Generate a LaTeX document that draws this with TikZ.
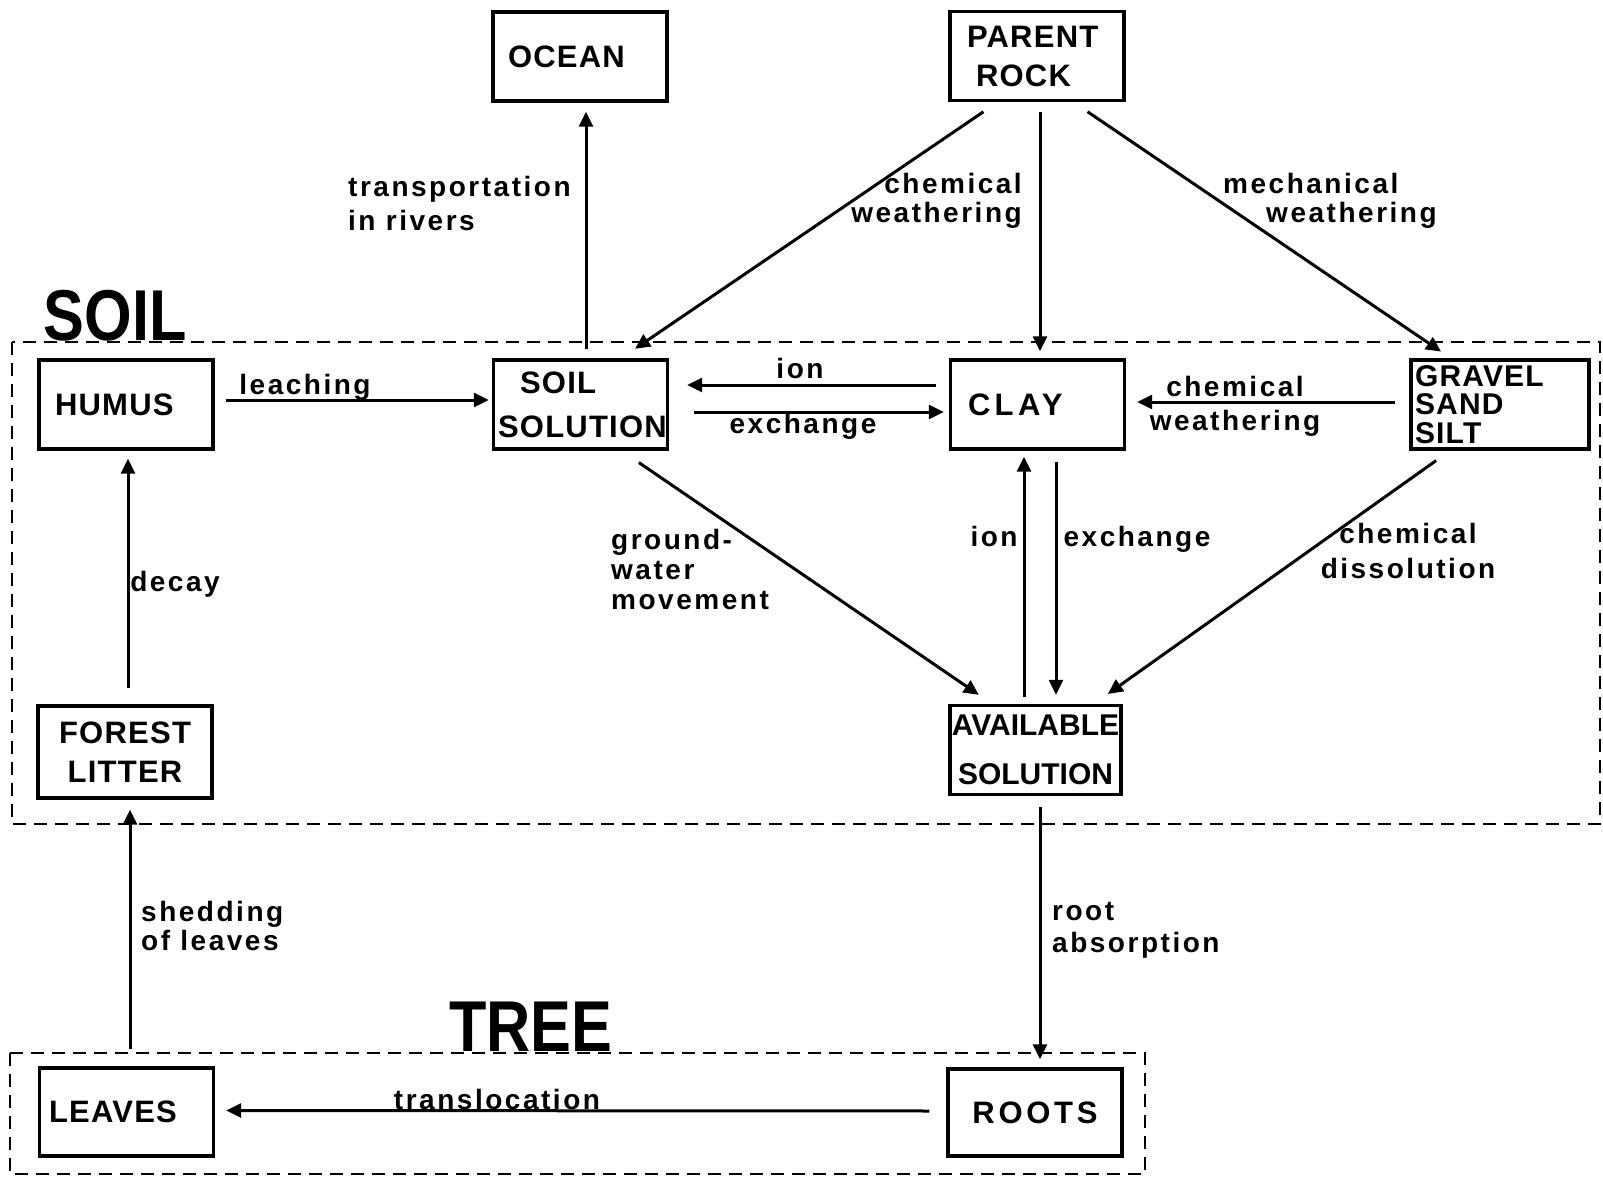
\documentclass[tikz,border=0pt]{standalone}
\usepackage{fontspec}
\setmainfont{Liberation Sans}
\newfontfamily\boxfont[LetterSpace=4]{Liberation Sans}
\newfontfamily\lblfont[LetterSpace=9]{Liberation Sans}
\newfontfamily\titlefont[FakeStretch=0.85]{Liberation Sans}
\usetikzlibrary{arrows.meta,calc}
\tikzset{
	item/.style={
			draw, line width=3.4pt, rectangle, minimum width=174pt, minimum height=89pt,
			inner sep=2pt, align=center, font=\boxfont\bfseries\fontsize{31}{39}\selectfont
		},
	leftitem/.style={item, text width=#1, align=left, inner sep=0pt},
	lbl/.style={align=left, inner sep=0pt, font=\lblfont\bfseries\fontsize{28}{#1}\selectfont},
	lbl/.default=31,
	flow/.style={line width=3pt, -{Triangle[length=15pt,width=14pt]}},
	region/.style={dash pattern=on 13pt off 8pt, line width=2pt},
	title/.style={inner sep=0pt, font=\titlefont\bfseries\fontsize{72}{72}\selectfont}
}

\begin{document}
\begin{tikzpicture}[x=1pt,y=-1pt]
	\useasboundingbox (0,0) rectangle (1603,1178);
	\draw[region] (12,342) rectangle (1600,824);
	\draw[region] (10,1053) rectangle (1145,1174);
	\node[title] (soiltitle) at (115,316) {SOIL};
	\node[title] (treetitle) at (531,1027) {TREE};

	\node[leftitem=144pt] (ocean) at (580,56.5) {OCEAN};
	\node[leftitem=140pt] (rock) at (1037,56) {PARENT\\\hspace*{9pt}ROCK};
	\node[leftitem=142pt] (humus) at (126,404.5) {HUMUS};
	\node[leftitem=165pt, font=\boxfont\bfseries\fontsize{31}{44}\selectfont] (soilsol) at (580.5,404.5) {\hspace*{22pt}SOIL\\SOLUTION};
	\node[leftitem=139pt, font=\boxfont\bfseries\addfontfeature{LetterSpace=14}\fontsize{31}{39}\selectfont] (clay) at (1037.5,404.5) {CLAY};
	\node[item, text width=170pt, inner sep=4pt, align=left, font=\boxfont\bfseries\fontsize{30}{28.5}\selectfont] (gravel) at (1500,404.5) {GRAVEL\\SAND\\SILT};
	\node[item, minimum height=92pt] (litter) at (125,752) {FOREST\\LITTER};
	\node[item, minimum width=171pt, font=\bfseries\fontsize{30}{49}\selectfont] (avail) at (1035.5,750) {AVAILABLE\\SOLUTION};
	\node[leftitem=155pt, minimum height=88pt] (leaves) at (126.5,1112) {LEAVES};
	\node[item, minimum height=87pt, font=\boxfont\bfseries\addfontfeature{LetterSpace=12}\fontsize{31}{39}\selectfont] (roots) at (1035,1112.5) {ROOTS};

	\node[lbl=34, anchor=west] (rivers) at (348,203) {transportation\\in rivers};
	\node[lbl=29, align=right, anchor=east] (chemrock) at (1022,201) {chemical\\weathering};
	\node[lbl=29, anchor=west] (mech) at (1223,201) {mechanical\\\hspace*{43pt}weathering};
	\node[lbl] (leach) at (305,387) {leaching};
	\node[lbl] (ionleft) at (800,368) {ion};
	\node[lbl] (exleft) at (803,426) {exchange};
	\node[lbl=34, align=center] (chemgravel) at (1235,406) {chemical\\weathering};
	\node[lbl=30, anchor=west] (ground) at (611,569) {ground-\\water\\movement};
	\node[lbl] (iondown) at (994,536) {ion};
	\node[lbl] (exdown) at (1137,539) {exchange};
	\node[lbl=35, align=center] (dissol) at (1408,551) {chemical\\dissolution};
	\node[lbl] (decay) at (175,584) {decay};
	\node[lbl=29, anchor=west] (shed) at (141,926) {shedding\\of leaves};
	\node[lbl=32, anchor=west] (absorb) at (1052,930) {root\\absorption};
	\node[lbl] (transloc) at (497,1099) {translocation};

	\draw[flow, shorten <=9pt, shorten >=9pt] ([xshift=5.5pt]soilsol.north) -- ([xshift=6pt]ocean.south);
	\draw[flow, shorten <=17pt, shorten >=17pt] ([xshift=-39.5pt]rock.south) -- ([xshift=40.5pt]soilsol.north);
	\draw[flow, shorten <=10pt, shorten >=7pt] ([xshift=3pt]rock.south) -- ([xshift=2.5pt]clay.north);
	\draw[flow, shorten <=17pt, shorten >=12pt] ([xshift=36.5pt]rock.south) -- ([xshift=-49pt]gravel.north);
	\draw[flow, shorten <=11pt, shorten >=3pt] ([yshift=4.5pt]humus.east) -- ([yshift=4.5pt]soilsol.west);
	\draw[flow, shorten <=13pt, shorten >=18pt] ([yshift=19.5pt]clay.west) -- ([yshift=19.5pt]soilsol.east);
	\draw[flow, shorten <=25pt, shorten >=5pt] ([yshift=-7.5pt]soilsol.east) -- ([yshift=-7.5pt]clay.west);
	\draw[flow, shorten <=14pt, shorten >=11pt] ([yshift=2.5pt]gravel.west) -- ([yshift=2.5pt]clay.east);
	\draw[flow, shorten <=21pt, shorten >=16pt] ([xshift=41pt]soilsol.south) -- ([xshift=-43.5pt]avail.north);
	\draw[flow, shorten <=7pt, shorten >=6pt] ([xshift=-11.5pt]avail.north) -- ([xshift=-13.5pt]clay.south);
	\draw[flow, shorten <=11pt, shorten >=9pt] ([xshift=18.5pt]clay.south) -- ([xshift=20.5pt]avail.north);
	\draw[flow, shorten <=17pt, shorten >=17pt] ([xshift=-50pt]gravel.south) -- ([xshift=58.5pt]avail.north);
	\draw[flow, shorten <=16pt, shorten >=8pt] ([xshift=3pt]litter.north) -- ([xshift=2pt]humus.south);
	\draw[flow, shorten <=17pt, shorten >=10pt] ([xshift=3.5pt]leaves.north) -- ([xshift=5pt]litter.south);
	\draw[flow, shorten <=11pt, shorten >=8pt] ([xshift=4.5pt]avail.south) -- ([xshift=5pt]roots.north);
	\draw[flow, shorten <=17pt, shorten >=11pt] ([yshift=1.5pt]roots.west) -- ([yshift=1.5pt]leaves.east);
\end{tikzpicture}
\end{document}
